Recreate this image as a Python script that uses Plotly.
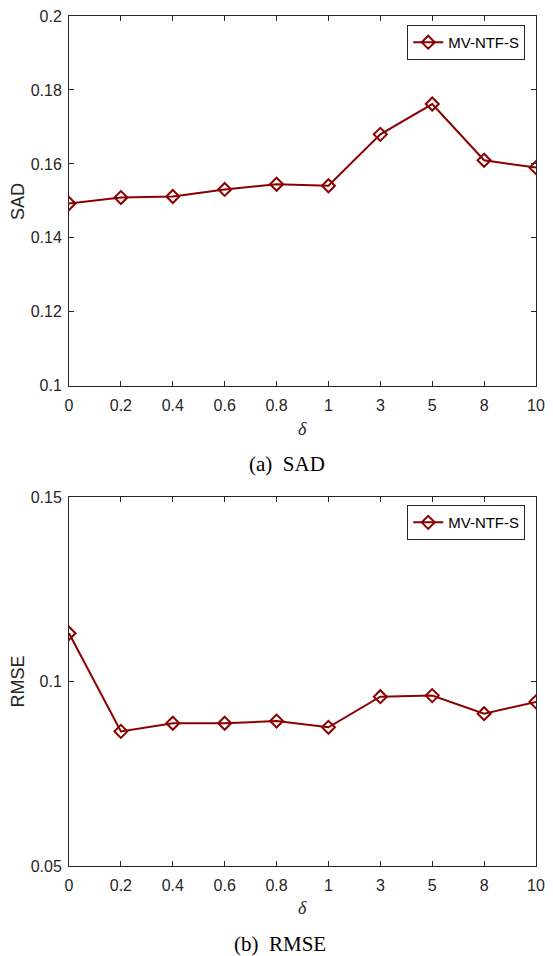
import plotly.graph_objects as go
from plotly.subplots import make_subplots

delta_labels = ["0", "0.2", "0.4", "0.6", "0.8", "1", "3", "5", "8", "10"]
sad_values = [0.1493, 0.1509, 0.1512, 0.1531, 0.1545, 0.1541, 0.1680, 0.1762, 0.1610, 0.1590]
rmse_values = [0.1131, 0.0865, 0.0887, 0.0887, 0.0893, 0.0876, 0.0959, 0.0962, 0.0913, 0.0945]
series_name = "MV-NTF-S"

W, H = 553, 956
ML, MR, MT, MB = 69, 8, 11, 90
PLOT_H = H - MT - MB
PLOT_W = W - ML - MR


def py(px):
    return (H - MB - px) / PLOT_H


def pxx(px):
    return (px - ML) / PLOT_W


color = "#8B0000"
axcol = "#262626"
sans = "Liberation Sans, Arial, sans-serif"
serif = "Liberation Serif, Times New Roman, serif"
tickfont = dict(family=sans, size=16, color=axcol)

fig = make_subplots(rows=2, cols=1)

for row, vals, lg in [(1, sad_values, "legend"), (2, rmse_values, "legend2")]:
    fig.add_trace(go.Scatter(
        x=delta_labels, y=vals, mode="lines+markers", name=series_name,
        line=dict(color=color, width=2),
        marker=dict(symbol="diamond-open", size=10, color=color, line=dict(width=2, color=color)),
        legend=lg, showlegend=True), row=row, col=1)

xcommon = dict(type="category", range=[0, 9], showline=True, linecolor=axcol, linewidth=1,
               mirror="ticks", ticks="inside", ticklen=5, tickcolor=axcol, tickfont=tickfont,
               showgrid=False, zeroline=False, ticklabelstandoff=5)
ycommon = dict(showline=True, linecolor=axcol, linewidth=1, mirror="ticks", ticks="inside",
               ticklen=5, tickcolor=axcol, tickfont=tickfont, showgrid=False, zeroline=False,
               ticklabelstandoff=3)

fig.update_xaxes(**xcommon)
fig.update_yaxes(**ycommon)

legend_common = dict(xanchor="right", yanchor="top", xref="paper", yref="paper",
                     bgcolor="white", bordercolor=axcol, borderwidth=1,
                     font=dict(family=sans, size=15, color="black"),
                     itemwidth=30, tracegroupgap=0)

fig.update_layout(
    xaxis=dict(domain=[0, 1], anchor="y"),
    xaxis2=dict(domain=[0, 1], anchor="y2"),
    yaxis=dict(domain=[py(383), 1], range=[0.1, 0.2], tickvals=[0.1, 0.12, 0.14, 0.16, 0.18, 0.2],
               ticktext=["0.1", "0.12", "0.14", "0.16", "0.18", "0.2"]),
    yaxis2=dict(domain=[0, py(495)], range=[0.05, 0.15], tickvals=[0.05, 0.1, 0.15],
                ticktext=["0.05", "0.1", "0.15"]),
    width=W, height=H,
    margin=dict(l=ML, r=MR, t=MT, b=MB),
    paper_bgcolor="white", plot_bgcolor="white",
    legend=dict(x=pxx(534), y=py(20), **legend_common),
    legend2=dict(x=pxx(534), y=py(503), **legend_common),
    showlegend=True,
)

# y-axis titles
for ypx, txt in [((11 + 383) / 2, "SAD"), ((495 + 866) / 2, "RMSE")]:
    fig.add_annotation(x=pxx(17), y=py(ypx), xref="paper", yref="paper", text=txt, showarrow=False,
                       textangle=-90, xanchor="center", yanchor="middle",
                       font=dict(family=sans, size=18, color=axcol))

# x-axis titles and captions
annos = [
    (pxx(307), 426, "<i>δ</i>", 18, axcol),
    (pxx(291), 462, "(a)&nbsp;&nbsp;SAD", 21, "black"),
    (pxx(307), 908, "<i>δ</i>", 18, axcol),
    (pxx(284), 944, "(b)&nbsp;&nbsp;RMSE", 21, "black"),
]
for xp, ypx, txt, sz, col in annos:
    fig.add_annotation(x=xp, y=py(ypx), xref="paper", yref="paper", text=txt, showarrow=False,
                       xanchor="center", yanchor="middle",
                       font=dict(family=serif, size=sz, color=col))

fig.write_html("out.html")
